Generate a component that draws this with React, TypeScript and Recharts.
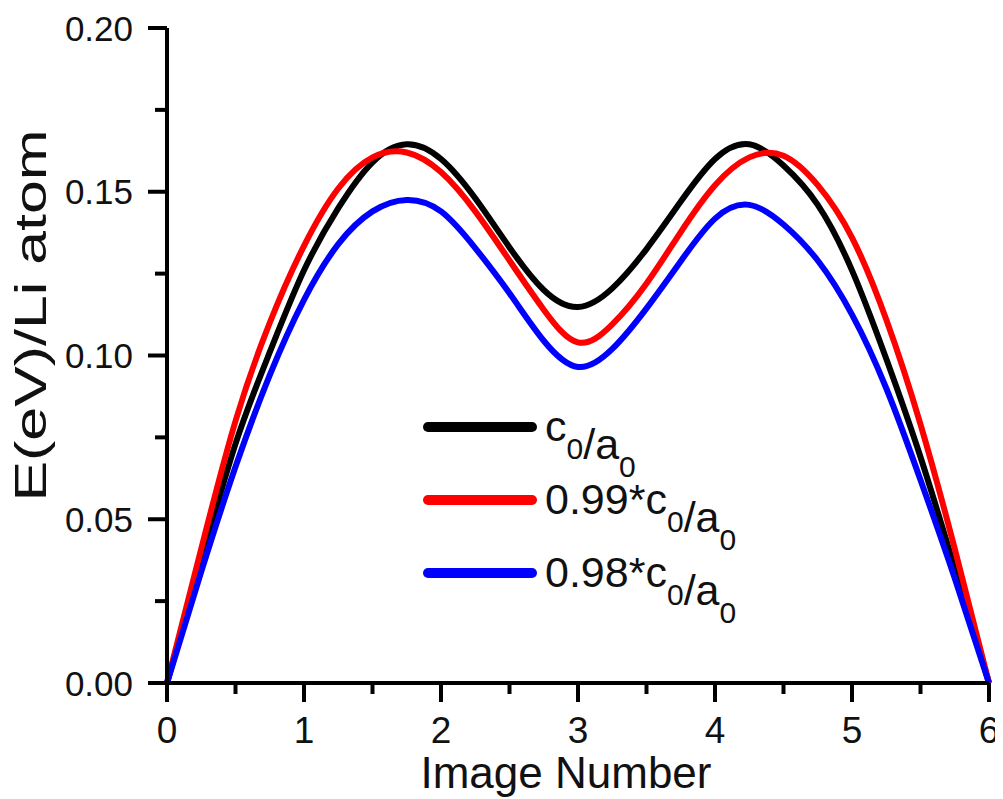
import React from 'react';
import { LineChart, Line, XAxis, YAxis, Legend } from 'recharts';

const imageNumber = [0, 0.25, 0.5, 0.75, 1, 1.25, 1.5, 1.75, 2, 2.25, 2.5, 2.75, 3, 3.25, 3.5, 3.75, 4, 4.25, 4.5, 4.75, 5, 5.25, 5.5, 5.75, 6];
const energyC0 = [0, 0.037, 0.073, 0.101, 0.126, 0.145, 0.159, 0.1645, 0.160, 0.148, 0.133, 0.120, 0.1148, 0.1205, 0.1325, 0.147, 0.160, 0.1645, 0.158, 0.146, 0.126, 0.099, 0.069, 0.035, 0];
const energy099 = [0, 0.041, 0.080, 0.110, 0.1335, 0.151, 0.1605, 0.162, 0.156, 0.144, 0.129, 0.114, 0.104, 0.1095, 0.122, 0.1377, 0.152, 0.1605, 0.161, 0.152, 0.136, 0.111, 0.079, 0.041, 0];
const energy098 = [0, 0.034, 0.066, 0.094, 0.117, 0.134, 0.144, 0.1475, 0.144, 0.1328, 0.119, 0.1045, 0.0965, 0.102, 0.1144, 0.1288, 0.1418, 0.146, 0.140, 0.129, 0.1125, 0.090, 0.062, 0.032, 0];

const xTicks = [0, 0.5, 1, 1.5, 2, 2.5, 3, 3.5, 4, 4.5, 5, 5.5, 6];
const yTicks = [0, 0.025, 0.05, 0.075, 0.1, 0.125, 0.15, 0.175, 0.2];
const seriesKeys = ['s0', 's1', 's2'];
const seriesNames = ['c0/a0', '0.99*c0/a0', '0.98*c0/a0'];
const seriesColors = ['#000000', '#ff0000', '#0000ff'];
const xTitle = 'Image Number';
const yTitle = 'E(eV)/Li atom';

const data = imageNumber.map((x, i) => ({
  x,
  s0: energyC0[i],
  s1: energy099[i],
  s2: energy098[i],
}));

const FONT = '"Liberation Sans", Arial, Helvetica, sans-serif';
const TEXT = '#111111';

const XTick = (props: any) => {
  const { x, y, payload } = props;
  const v = payload.value;
  const major = Math.abs(v - Math.round(v)) < 1e-6;
  return (
    <g>
      <line x1={x} x2={x} y1={y} y2={y + (major ? 19 : 11)} stroke="#000" strokeWidth={4} />
      {major && (
        <text x={x} y={y + 60} textAnchor="middle" fontSize={37} fontFamily={FONT} fill={TEXT}>
          {Math.round(v)}
        </text>
      )}
    </g>
  );
};

const YTick = (props: any) => {
  const { x, y, payload } = props;
  const v = payload.value;
  const major = Math.abs(v * 20 - Math.round(v * 20)) < 1e-6;
  return (
    <g>
      <line x1={x - (major ? 19 : 12)} x2={x} y1={y} y2={y} stroke="#000" strokeWidth={4} />
      {major && (
        <text x={x - 34} y={y + 12.5} textAnchor="end" fontSize={35} fontFamily={FONT} fill={TEXT}>
          {v.toFixed(2)}
        </text>
      )}
    </g>
  );
};

const XTitle = (props: any) => {
  const vb = props.viewBox || {};
  const cx = vb.x + vb.width / 2 - 12;
  return (
    <text x={cx} y={vb.y + 105} textAnchor="middle" fontSize={44} fontFamily={FONT} fill={TEXT}>
      {xTitle}
    </text>
  );
};

const YTitle = (props: any) => {
  const vb = props.viewBox || {};
  const ax = vb.x + vb.width - 121;
  const cy = vb.y + vb.height / 2 - 40;
  return (
    <text
      x={ax}
      y={cy}
      transform={`rotate(-90, ${ax}, ${cy})`}
      textAnchor="middle"
      fontSize={45}
      fontFamily={FONT}
      fill={TEXT}
      textLength={372}
      lengthAdjust="spacingAndGlyphs"
    >
      {yTitle}
    </text>
  );
};

const renderName = (name: string) => {
  const parts: React.ReactNode[] = [];
  const re = /([ca])0/g;
  let last = 0;
  let m: RegExpExecArray | null;
  let k = 0;
  while ((m = re.exec(name)) !== null) {
    parts.push(<tspan key={k++}>{name.slice(last, m.index) + m[1]}</tspan>);
    parts.push(
      <tspan key={k++} fontSize={30} dy={18}>
        0
      </tspan>
    );
    parts.push(<tspan key={k++} dy={-18}>{''}</tspan>);
    last = m.index + 2;
  }
  if (last < name.length) parts.push(<tspan key={k++}>{name.slice(last)}</tspan>);
  return parts;
};

const LegendContent = (props: any) => {
  const payload = [...(props.payload || [])].sort(
    (a: any, b: any) => seriesKeys.indexOf(a.dataKey) - seriesKeys.indexOf(b.dataKey)
  );
  return (
    <svg width={400} height={230} style={{ display: 'block', overflow: 'visible' }}>
      {payload.map((entry: any, i: number) => {
        const cy = 40 + i * 73;
        return (
          <g key={`lg-${i}`}>
            <line x1={13} x2={117} y1={cy} y2={cy} stroke={entry.color} strokeWidth={10} strokeLinecap="round" />
            <text x={130} y={cy + 14} fontSize={43} fontFamily={FONT} fill={TEXT}>
              {renderName(String(entry.value))}
            </text>
          </g>
        );
      })}
    </svg>
  );
};

export default function App() {
  return (
    <div style={{ width: 990, height: 790, background: '#fff' }}>
      <LineChart
        width={990}
        height={790}
        data={data}
        margin={{ top: 20, right: 9, bottom: 15, left: 59 }}
      >
        <XAxis
          dataKey="x"
          type="number"
          domain={[0, 6]}
          ticks={xTicks}
          interval={0}
          tick={<XTick />}
          tickLine={false}
          tickSize={0}
          tickMargin={0}
          height={100}
          axisLine={{ stroke: '#000', strokeWidth: 4 }}
          label={<XTitle />}
        />
        <XAxis
          xAxisId="top"
          orientation="top"
          dataKey="x"
          type="number"
          domain={[0, 6]}
          tick={false}
          tickLine={false}
          height={0}
          axisLine={{ stroke: '#000', strokeWidth: 4 }}
        />
        <YAxis
          type="number"
          domain={[0, 0.2]}
          ticks={yTicks}
          interval={0}
          tick={<YTick />}
          tickLine={false}
          tickSize={0}
          tickMargin={0}
          width={100}
          axisLine={{ stroke: '#000', strokeWidth: 4 }}
          label={<YTitle />}
        />
        <YAxis
          yAxisId="right"
          orientation="right"
          type="number"
          domain={[0, 0.2]}
          tick={false}
          tickLine={false}
          width={0}
          axisLine={{ stroke: '#000', strokeWidth: 4 }}
        />
        <Legend
          layout="vertical"
          align="center"
          verticalAlign="middle"
          content={<LegendContent />}
          wrapperStyle={{ position: 'absolute', left: 407, top: 379, width: 400, height: 230 }}
        />
        <Line dataKey="s0" name={seriesNames[0]} stroke={seriesColors[0]} strokeWidth={6} dot={false} type="natural" isAnimationActive={false} />
        <Line dataKey="s1" name={seriesNames[1]} stroke={seriesColors[1]} strokeWidth={6} dot={false} type="natural" isAnimationActive={false} />
        <Line dataKey="s2" name={seriesNames[2]} stroke={seriesColors[2]} strokeWidth={6} dot={false} type="natural" isAnimationActive={false} />
      </LineChart>
    </div>
  );
}
